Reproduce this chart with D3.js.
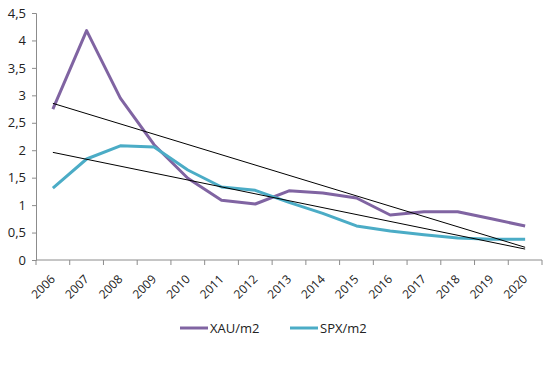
<!DOCTYPE html>
<html lang="en">
<head>
<meta charset="utf-8">
<script src="https://d3js.org/d3.v7.min.js"></script>
<style>
body { margin: 0; background: #fff; }
text { font-family: "Open Sans", sans-serif; }
</style>
</head>
<body>
<div id="chart"></div>
<script>
// data
var years = ["2006","2007","2008","2009","2010","2011","2012","2013","2014","2015","2016","2017","2018","2019","2020"];
var xau = [2.75, 4.18, 2.95, 2.1, 1.49, 1.09, 1.02, 1.26, 1.22, 1.13, 0.82, 0.88, 0.88, 0.75, 0.62];
var spx = [1.31, 1.84, 2.08, 2.06, 1.64, 1.33, 1.27, 1.05, 0.85, 0.62, 0.53, 0.46, 0.40, 0.38, 0.38];
var yTicks = [0, 0.5, 1, 1.5, 2, 2.5, 3, 3.5, 4, 4.5];

var series = [
  {name: "XAU/m2", values: xau, color: "#8064A2"},
  {name: "SPX/m2", values: spx, color: "#4BACC6"}
];

var width = 550, height = 370;
var margin = {top: 13, left: 36, right: 8, bottom: 110};

var svg = d3.select("#chart").append("svg")
  .attr("width", width).attr("height", height);

var x = d3.scaleBand().domain(years).range([margin.left, 542]);
var y = d3.scaleLinear().domain([0, 4.5]).range([260, 13]);
var cx = function(i) { return x(years[i]) + x.bandwidth() / 2; };

// y axis
var yAxis = svg.append("g")
  .attr("transform", "translate(" + margin.left + ",0)")
  .call(d3.axisLeft(y).tickValues(yTicks).tickSize(4).tickPadding(6)
    .tickFormat(function(d) { return String(d).replace(".", ","); }));
yAxis.selectAll("text").attr("font-size", 13).attr("fill", "#222").style("font-family", "'Open Sans', sans-serif");
yAxis.selectAll("line, path").attr("stroke", "#8c8c8c");

// x axis with ticks at category boundaries
var xg = svg.append("g").attr("transform", "translate(0," + y(0) + ")");
xg.append("line").attr("x1", margin.left).attr("x2", 542).attr("stroke", "#8c8c8c");
xg.selectAll("line.tk").data(years.concat([""])).enter().append("line")
  .attr("class", "tk")
  .attr("x1", function(d, i) { return margin.left + i * x.bandwidth(); })
  .attr("x2", function(d, i) { return margin.left + i * x.bandwidth(); })
  .attr("y1", 0).attr("y2", 5).attr("stroke", "#8c8c8c");
xg.selectAll("text").data(years).enter().append("text")
  .attr("transform", function(d, i) { return "translate(" + (cx(i) + 3) + ",20) rotate(-45)"; })
  .attr("text-anchor", "end")
  .attr("font-size", 12)
  .attr("fill", "#222")
  .text(function(d) { return d; });

// series lines
var line = d3.line().x(function(d, i) { return cx(i); }).y(function(d) { return y(d); });
series.forEach(function(s) {
  svg.append("path").datum(s.values)
    .attr("d", line)
    .attr("fill", "none")
    .attr("stroke", s.color)
    .attr("stroke-width", 3)
    .attr("stroke-linejoin", "round");
});

// linear trend lines (least squares, as the spreadsheet does)
series.forEach(function(s) {
  var n = s.values.length;
  var mx = (n - 1) / 2, my = d3.mean(s.values);
  var sxy = d3.sum(s.values, function(v, i) { return (i - mx) * (v - my); });
  var sxx = d3.sum(s.values, function(v, i) { return (i - mx) * (i - mx); });
  var b = sxy / sxx, a = my - b * mx;
  svg.append("line")
    .attr("x1", cx(0)).attr("y1", y(a))
    .attr("x2", cx(n - 1)).attr("y2", y(a + b * (n - 1)))
    .attr("stroke", "#000").attr("stroke-width", 1);
});

// legend
var leg = svg.append("g").attr("transform", "translate(180,328)");
series.forEach(function(s, i) {
  var g = leg.append("g").attr("transform", "translate(" + (i * 110) + ",0)");
  g.append("line").attr("x1", 0).attr("x2", 28).attr("stroke", s.color).attr("stroke-width", 3);
  g.append("text").attr("x", 30).attr("y", 0).attr("dy", "0.35em")
    .attr("font-size", 13).attr("fill", "#222").text(s.name);
});
</script>
</body>
</html>
